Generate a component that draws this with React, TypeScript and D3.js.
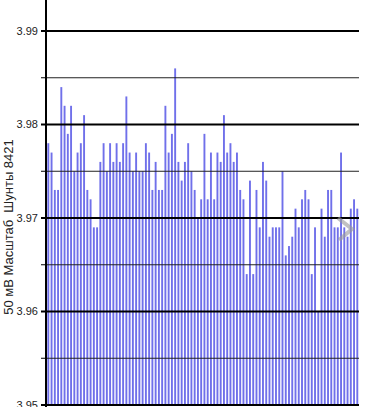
import React from "react";
import * as d3 from "d3";

// readings, one bar each, left to right
const readings: number[] = [
  3.978, 3.977, 3.973, 3.973, 3.984, 3.982, 3.979, 3.982, 3.975, 3.977,
  3.978, 3.981, 3.973, 3.972, 3.969, 3.969, 3.976, 3.978, 3.975, 3.978,
  3.976, 3.978, 3.976, 3.978, 3.983, 3.977, 3.975, 3.977, 3.975, 3.975,
  3.978, 3.977, 3.973, 3.976, 3.973, 3.973, 3.982, 3.977, 3.979, 3.986,
  3.976, 3.974, 3.976, 3.978, 3.975, 3.973, 3.970, 3.972, 3.979, 3.972,
  3.977, 3.972, 3.977, 3.976, 3.981, 3.977, 3.978, 3.976, 3.977, 3.973,
  3.972, 3.964, 3.974, 3.964, 3.973, 3.969, 3.976, 3.974, 3.968, 3.969,
  3.969, 3.969, 3.975, 3.966, 3.967, 3.968, 3.971, 3.969, 3.972, 3.973,
  3.972, 3.964, 3.969, 3.960, 3.971, 3.968, 3.973, 3.973, 3.969, 3.969,
  3.977, 3.969, 3.968, 3.971, 3.972, 3.971,
];

const majorTicks: number[] = [3.95, 3.96, 3.97, 3.98, 3.99];
const minorTicks: number[] = [3.955, 3.965, 3.975, 3.985];
const yTitle = "50 мВ Масштаб\u00a0 Шунты 8421";

const W = 369;
const H = 407;
const axisX = 46;
const plotRight = 359;

export default function App() {
  const y = d3.scaleLinear().domain([3.95, 3.99]).range([405, 31]);
  const x = d3
    .scalePoint<number>()
    .domain(readings.map((_, i) => i))
    .range([48.3, 357.3]);
  const barW = 1.9;

  return (
    <svg
      width={W}
      height={H}
      style={{ position: "absolute", left: 0, top: 0, background: "#fff" }}
      fontFamily="'Liberation Sans', Arial, sans-serif"
    >
      {/* bars */}
      <g fill="#7070ea">
        {readings.map((v, i) => (
          <rect
            key={i}
            x={(x(i) as number) - barW / 2}
            y={y(v)}
            width={barW}
            height={y(3.95) - y(v)}
          />
        ))}
      </g>

      {/* grid */}
      {minorTicks.map((t) => (
        <g key={"m" + t}>
          <line x1={axisX} x2={plotRight} y1={y(t)} y2={y(t)} stroke="#222" strokeWidth={1} />
          <line x1={41} x2={axisX} y1={y(t)} y2={y(t)} stroke="#000" strokeWidth={1} />
        </g>
      ))}
      {majorTicks.map((t) => (
        <g key={"M" + t}>
          <line x1={axisX} x2={plotRight} y1={y(t)} y2={y(t)} stroke="#000" strokeWidth={2} />
          <line x1={41} x2={axisX} y1={y(t)} y2={y(t)} stroke="#000" strokeWidth={2} />
          <text x={38} y={y(t)} dy="0.35em" textAnchor="end" fontSize={11} fill="#222">
            {d3.format(".2f")(t)}
          </text>
        </g>
      ))}

      {/* axis line */}
      <line x1={axisX} x2={axisX} y1={0} y2={H} stroke="#000" strokeWidth={2} />

      {/* faint watermark chevron */}
      <path
        d="M338,218 L352,229 L339,240"
        fill="none"
        stroke="#999"
        strokeWidth={4}
        opacity={0.6}
      />

      {/* axis title */}
      <text
        transform={`translate(13,227) rotate(-90)`}
        textAnchor="middle"
        fontSize={13}
        fill="#222"
      >
        {yTitle}
      </text>
    </svg>
  );
}
